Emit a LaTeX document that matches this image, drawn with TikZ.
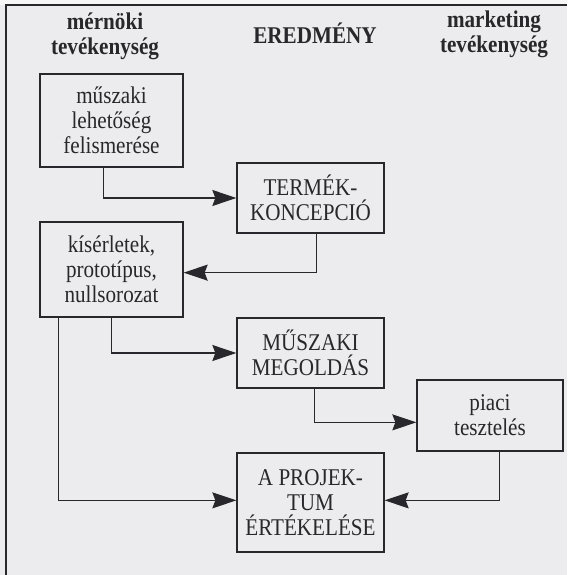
\documentclass[tikz,border=0pt]{standalone}
\usepackage{fontspec}
\setmainfont{Liberation Serif}[FakeStretch=0.88]
\usetikzlibrary{calc,arrows.meta}
\definecolor{bg}{RGB}{236,236,238}
\definecolor{bgtop}{RGB}{246,246,247}
\definecolor{ink}{RGB}{40,40,44}
\tikzset{
  box/.style={draw=ink, line width=1.3pt, inner sep=0pt, align=center,
    text=ink, font=\fontsize{24}{25}\selectfont},
  hdr/.style={inner sep=0pt, align=center, text=ink,
    font=\fontsize{24}{25}\selectfont\bfseries},
  arr/.style={draw=ink, line width=1.3pt,
    -{Stealth[length=24pt, width=16pt, inset=3pt]}},
  ln/.style={draw=ink, line width=1.3pt}
}
\begin{document}
\begin{tikzpicture}[x=1pt, y=-1pt]
\useasboundingbox (0,0) rectangle (567,575);
\fill[bg] (0,0) rectangle (567,575);
\fill[bgtop] (0,0) rectangle (567,5);
\draw[ink, line width=2pt] (6,575) -- (6,5) -- (567,5);

% headers
\node[hdr] (h1) at (105,36) {mérnöki\\tevékenység};
\node[hdr] (h2) at (315,33) {EREDMÉNY};
\node[hdr] (h3) at (494,34) {marketing\\tevékenység};

% boxes
\node[box, minimum width=143pt, minimum height=93pt] (b1) at (111.5,120.5)
  {műszaki\\lehetőség\\felismerése};
\node[box, minimum width=143pt, minimum height=95pt] (kis) at (111.5,269.5)
  {kísérletek,\\prototípus,\\nullsorozat};
\node[box, minimum width=147pt, minimum height=70pt] (term) at (310.5,198)
  {TERMÉK-\\KONCEPCIÓ};
\node[box, minimum width=147pt, minimum height=70pt] (musz) at (310.5,353)
  {MŰSZAKI\\MEGOLDÁS};
\node[box, minimum width=146pt, minimum height=71pt] (piaci) at (490,415.5)
  {piaci\\tesztelés};
\node[box, minimum width=147pt, minimum height=99pt] (proj) at (310.5,502.5)
  {A PROJEK-\\TUM\\ÉRTÉKELÉSE};

% connectors
\draw[arr] ($(b1.south west)+(64,0)$) |- (term.west);
\draw[arr] ($(term.south west)+(80,0)$) |- ($(kis.south east)+(0,-45)$);
\draw[arr] ($(kis.south west)+(72,0)$) |- (musz.west);
\draw[arr] ($(kis.south west)+(19,0)$) |- ($(proj.north west)+(0,48)$);
\draw[arr] ($(musz.south west)+(78,0)$) |- ($(piaci.north west)+(0,43)$);
\draw[arr] ($(piaci.south west)+(83,0)$) |- ($(proj.north east)+(0,48)$);
\end{tikzpicture}
\end{document}
